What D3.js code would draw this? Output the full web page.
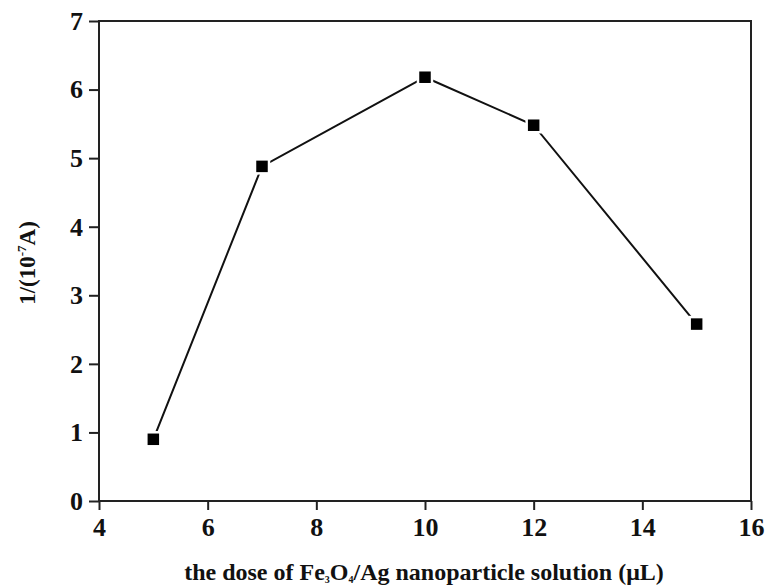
<!DOCTYPE html>
<html>
<head>
<meta charset="utf-8">
<script src="https://cdn.jsdelivr.net/npm/d3@7"></script>
<style>
  body { margin: 0; background: #fff; }
  .tick text { font-size: 26px; font-family: "Liberation Serif", "Times New Roman", serif; font-weight: bold; }
</style>
</head>
<body>
<svg id="chart" width="765" height="587"></svg>
<script>
const doses = [5, 7, 10, 12, 15];
const signal = [0.9, 4.88, 6.18, 5.48, 2.58];
const xTicks = [4, 6, 8, 10, 12, 14, 16];
const yTicks = [0, 1, 2, 3, 4, 5, 6, 7];

const width = 765;
const height = 587;
const serif = "'Liberation Serif', 'Times New Roman', serif";
const margin = { left: 99, right: 14, top: 21, bottom: 86 };
const svg = d3.select("#chart")
    .style("font-family", serif)
    .style("font-weight", "bold");

const x = d3.scaleLinear().domain([4, 16]).range([margin.left, width - margin.right]);
const y = d3.scaleLinear().domain([0, 7]).range([height - margin.bottom, margin.top]);

// frame
svg.append("rect")
    .attr("x", x(4)).attr("y", y(7))
    .attr("width", x(16) - x(4)).attr("height", y(0) - y(7))
    .attr("fill", "none").attr("stroke", "#222").attr("stroke-width", 2);

// x axis, major + minor ticks
const xAxis = svg.append("g").attr("transform", `translate(0,${y(0)})`);
xAxis.call(d3.axisBottom(x).tickValues(d3.range(5, 16, 2)).tickSize(5).tickFormat(""));
xAxis.call(d3.axisBottom(x).tickValues(xTicks).tickSize(9).tickPadding(8).tickFormat(d3.format("d")));
xAxis.selectAll(".domain").remove();
xAxis.selectAll("line").attr("stroke", "#222").attr("stroke-width", 2);
xAxis.selectAll("text").attr("fill", "#111").attr("font-size", 26);

const yAxis = svg.append("g").attr("transform", `translate(${x(4)},0)`);
yAxis.call(d3.axisLeft(y).tickValues(d3.range(0.5, 7, 1)).tickSize(5).tickFormat(""));
yAxis.call(d3.axisLeft(y).tickValues(yTicks).tickSize(10).tickPadding(6).tickFormat(d3.format("d")));
yAxis.selectAll(".domain").remove();
yAxis.selectAll("line").attr("stroke", "#222").attr("stroke-width", 2);
yAxis.selectAll("text").attr("fill", "#111").attr("font-size", 26);

// line + markers
const pts = doses.map((d, i) => [d, signal[i]]);
svg.append("path")
    .datum(pts)
    .attr("d", d3.line().x(d => x(d[0])).y(d => y(d[1])))
    .attr("fill", "none").attr("stroke", "#111").attr("stroke-width", 2);

svg.selectAll(".pt")
    .data(pts)
    .enter()
    .append("rect")
    .attr("class", "pt")
    .attr("x", d => x(d[0]) - 7).attr("y", d => y(d[1]) - 7)
    .attr("width", 14).attr("height", 14)
    .attr("fill", "#000").attr("stroke", "#fff").attr("stroke-width", 2.5);

// axis labels
const xl = svg.append("text")
    .attr("x", 424).attr("y", 580)
    .attr("text-anchor", "middle").attr("font-size", 24).attr("fill", "#111");
xl.append("tspan").text("the dose of Fe");
xl.append("tspan").attr("font-size", 10).attr("dy", 3).text("3");
xl.append("tspan").attr("dy", -3).text("O");
xl.append("tspan").attr("font-size", 10).attr("dy", 3).text("4");
xl.append("tspan").attr("dy", -3).text("/Ag nanoparticle solution (\u03bcL)");

const yl = svg.append("text")
    .attr("transform", `translate(35,${(y(0) + y(7)) / 2 + 2}) rotate(-90)`)
    .attr("text-anchor", "middle").attr("font-size", 23).attr("fill", "#111");
yl.append("tspan").text("1/(10");
yl.append("tspan").attr("font-size", 13).attr("dy", -9).text("-7");
yl.append("tspan").attr("dy", 9).text("A)");
</script>
</body>
</html>
